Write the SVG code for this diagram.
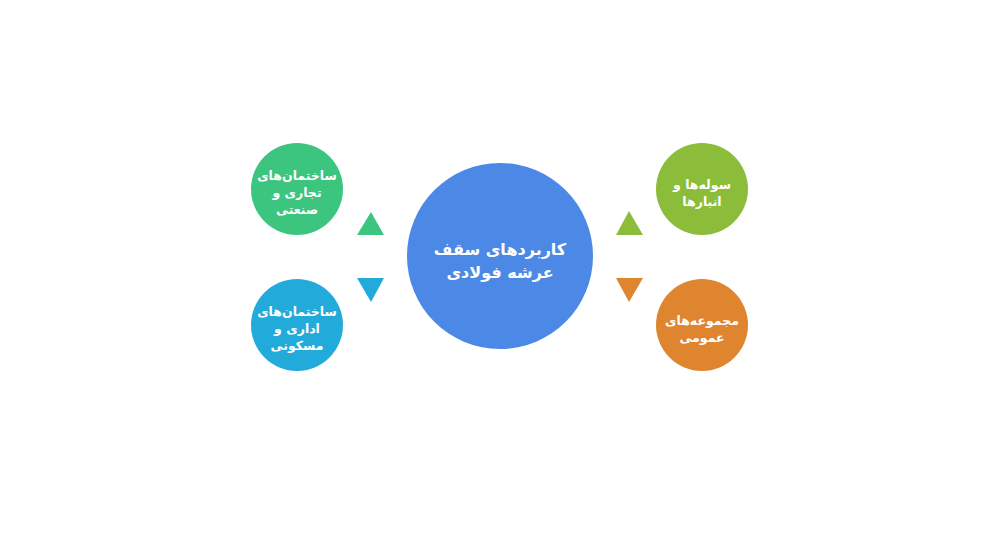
<svg xmlns="http://www.w3.org/2000/svg" width="1000" height="541" viewBox="0 0 1000 541">
<style>
text{font-family:"DejaVu Sans","Noto Sans",sans-serif;font-weight:bold;fill:#fff;text-anchor:middle;direction:rtl}
.s{font-size:12.5px}
.c{font-size:16px}
</style>
<rect width="1000" height="541" fill="#fff"/>
<g id="connectors">
<polygon points="371,212 357,235 384,235" fill="#3CC57F"/>
<polygon points="357,278 384,278 371,302" fill="#22ABDA"/>
<polygon points="629,211 616,235 643,235" fill="#8CBD3A"/>
<polygon points="616,278 643,278 629,302" fill="#DF8530"/>
</g>
<g id="center">
<circle cx="500" cy="256" r="93" fill="#4C88E5"/>
<text class="c" x="500" y="255">کاربردهای سقف</text>
<text class="c" x="500" y="278">عرشه فولادی</text>
</g>
<g id="commercial">
<circle cx="297" cy="189" r="46" fill="#3CC57F"/>
<text class="s" x="297" y="180">ساختمان‌های</text>
<text class="s" x="297" y="197">تجاری و</text>
<text class="s" x="297" y="214">صنعتی</text>
</g>
<g id="residential">
<circle cx="297" cy="325" r="46" fill="#22ABDA"/>
<text class="s" x="297" y="316">ساختمان‌های</text>
<text class="s" x="297" y="333">اداری و</text>
<text class="s" x="297" y="350">مسکونی</text>
</g>
<g id="warehouses">
<circle cx="702" cy="189" r="46" fill="#8CBD3A"/>
<text class="s" x="702" y="189">سوله‌ها و</text>
<text class="s" x="702" y="206">انبارها</text>
</g>
<g id="public">
<circle cx="702" cy="325" r="46" fill="#DF8530"/>
<text class="s" x="702" y="325">مجموعه‌های</text>
<text class="s" x="702" y="342">عمومی</text>
</g>
</svg>
